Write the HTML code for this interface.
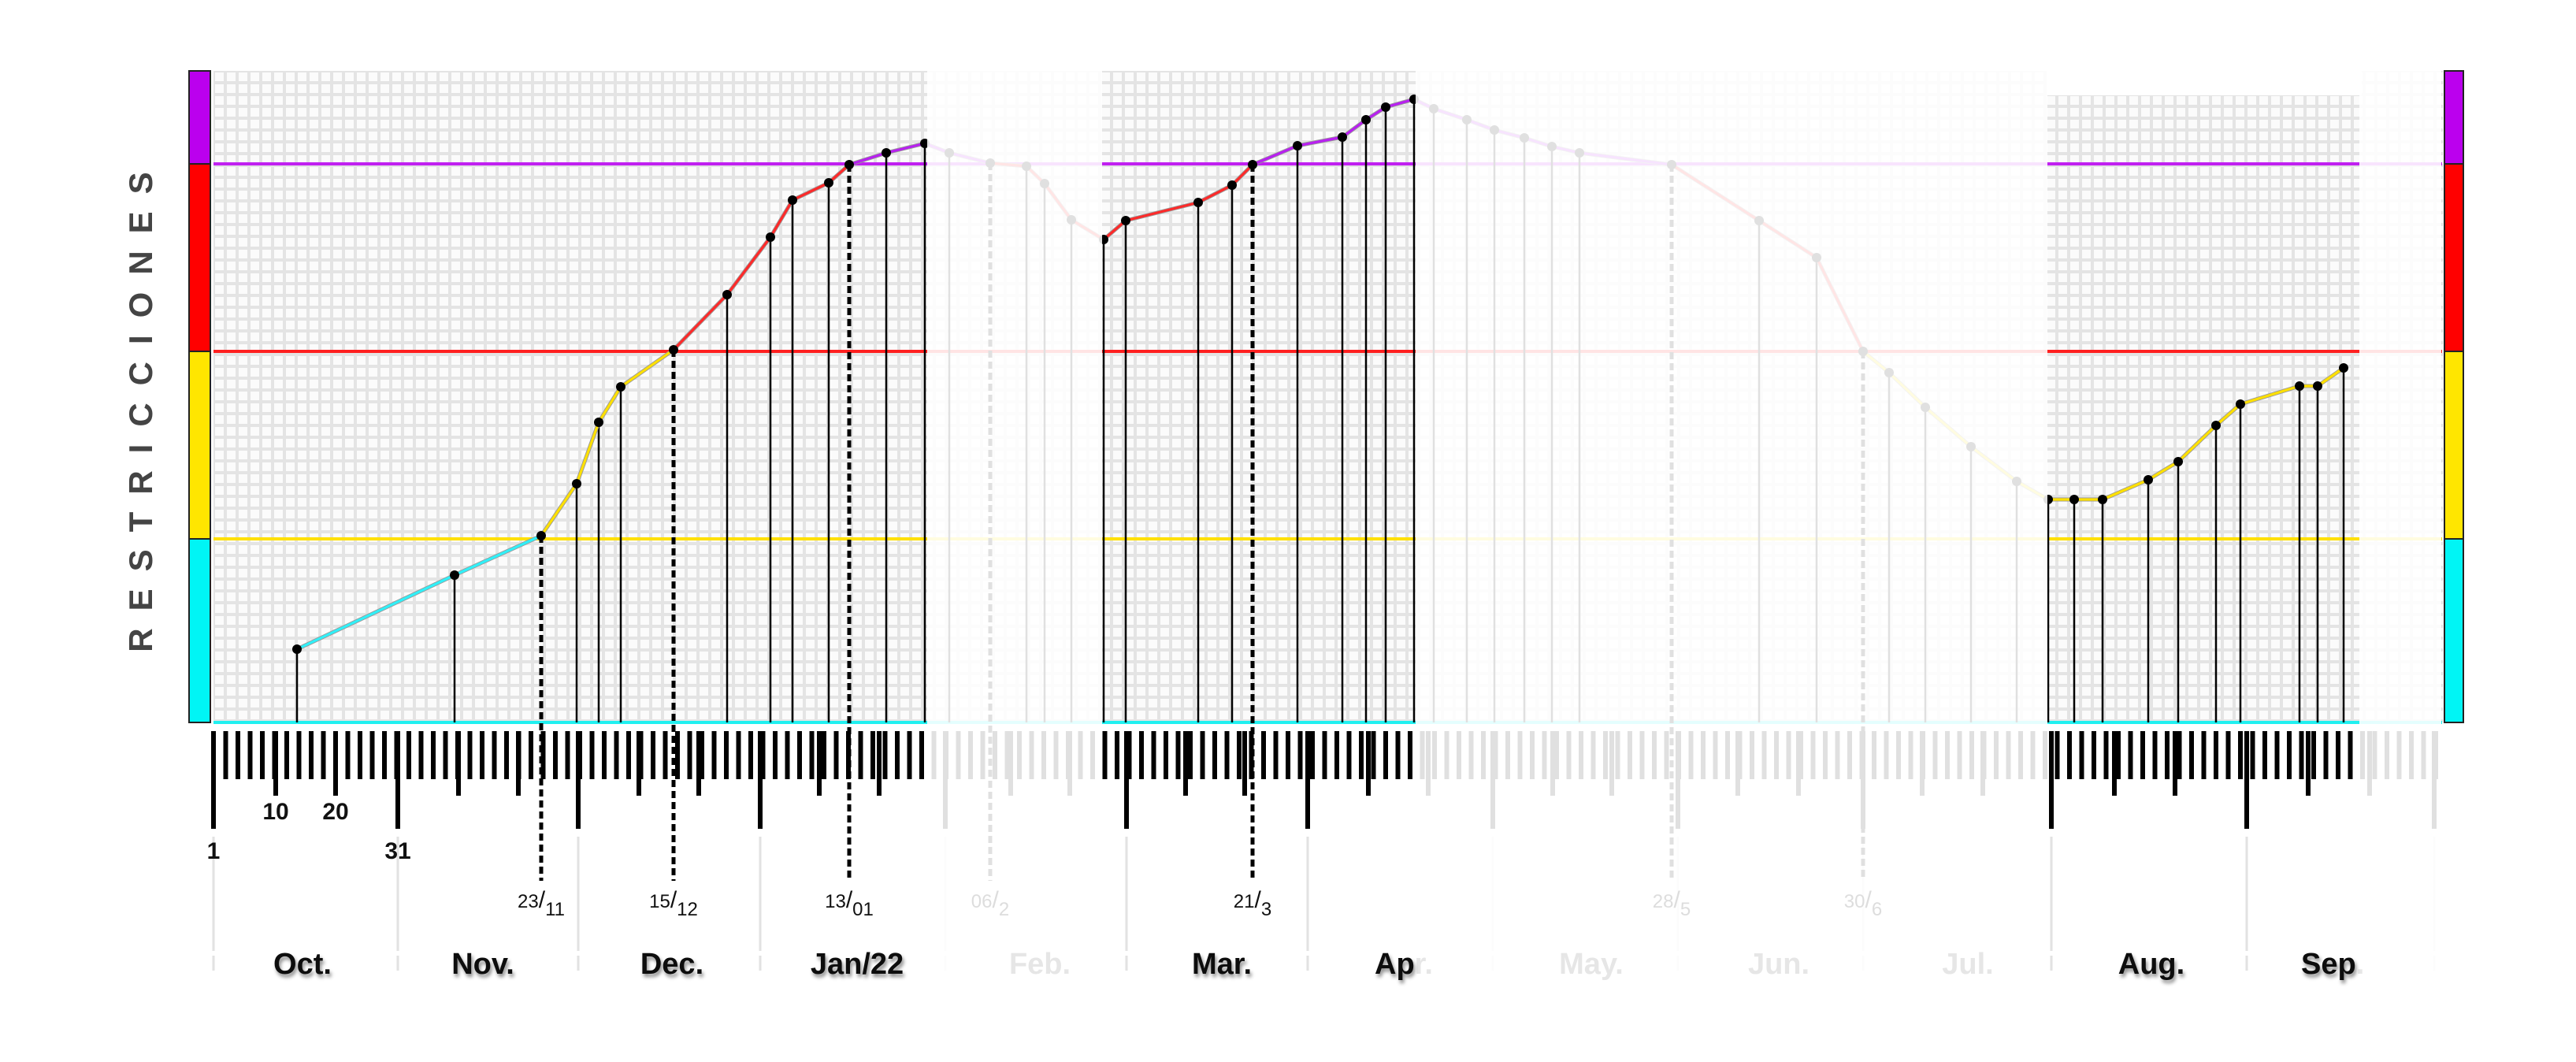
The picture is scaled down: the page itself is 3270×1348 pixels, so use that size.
<!DOCTYPE html>
<html><head><meta charset="utf-8">
<style>
html,body{margin:0;padding:0;background:#fff;}
svg{display:block;}
text{font-family:"Liberation Sans",sans-serif;}
</style></head>
<body>
<svg width="3270" height="1348" viewBox="0 0 3270 1348" xmlns="http://www.w3.org/2000/svg">
<defs>
<pattern id="grid" x="271" y="90" width="15" height="15" patternUnits="userSpaceOnUse">
<rect width="15" height="15" fill="#e4e4e4"/>
<rect x="2" y="2" width="11" height="11" fill="#fbfbfb"/>
</pattern>
<pattern id="tk" x="268" y="0" width="15.5" height="2000" patternUnits="userSpaceOnUse">
<rect x="0" y="0" width="6" height="2000" fill="#000"/>
</pattern>
<filter id="sh" x="-20%" y="-20%" width="140%" height="160%">
<feDropShadow dx="2" dy="4" stdDeviation="2.5" flood-color="#000" flood-opacity="0.45"/>
</filter>
</defs>
<rect width="3270" height="1348" fill="#fff"/>
<rect x="271" y="90" width="2830" height="827" fill="url(#grid)"/>
<rect x="2598" y="80" width="400" height="41" fill="#fff"/>
<g stroke="#222" stroke-width="2">
<rect x="240" y="90" width="27" height="118" fill="#bb00ee"/>
<rect x="240" y="208" width="27" height="238" fill="#ff0000"/>
<rect x="240" y="446" width="27" height="238" fill="#ffe600"/>
<rect x="240" y="684" width="27" height="233" fill="#00f5f5"/>
<rect x="3103" y="90" width="24" height="118" fill="#bb00ee"/>
<rect x="3103" y="208" width="24" height="238" fill="#ff0000"/>
<rect x="3103" y="446" width="24" height="238" fill="#ffe600"/>
<rect x="3103" y="684" width="24" height="233" fill="#00f5f5"/>
</g>
<g stroke-width="4">
<line x1="271" y1="208" x2="3100" y2="208" stroke="#c020f0"/>
<line x1="271" y1="446" x2="3100" y2="446" stroke="#ff2020"/>
<line x1="271" y1="684" x2="3100" y2="684" stroke="#ffe000"/>
<line x1="271" y1="917" x2="3100" y2="917" stroke="#20f0f0"/>
</g>
<rect x="268" y="928" width="2831" height="61" fill="url(#tk)"/>
<g fill="#000">
<rect x="268" y="928" width="6" height="124"/>
<rect x="502" y="928" width="6" height="124"/>
<rect x="731" y="928" width="6" height="124"/>
<rect x="962" y="928" width="6" height="124"/>
<rect x="1197" y="928" width="6" height="124"/>
<rect x="1427" y="928" width="6" height="124"/>
<rect x="1657" y="928" width="6" height="124"/>
<rect x="1892" y="928" width="6" height="124"/>
<rect x="2127" y="928" width="6" height="124"/>
<rect x="2362" y="928" width="6" height="124"/>
<rect x="2601" y="928" width="6" height="124"/>
<rect x="2849" y="928" width="6" height="124"/>
<rect x="3087" y="928" width="6" height="124"/>
<rect x="347" y="928" width="6" height="82"/><rect x="423" y="928" width="6" height="82"/>
<rect x="579" y="928" width="6" height="82"/><rect x="655" y="928" width="6" height="82"/>
<rect x="808" y="928" width="6" height="82"/><rect x="884" y="928" width="6" height="82"/>
<rect x="1037" y="928" width="6" height="82"/><rect x="1113" y="928" width="6" height="82"/>
<rect x="1280" y="928" width="6" height="82"/><rect x="1355" y="928" width="6" height="82"/>
<rect x="1502" y="928" width="6" height="82"/><rect x="1577" y="928" width="6" height="82"/>
<rect x="1734" y="928" width="6" height="82"/><rect x="1810" y="928" width="6" height="82"/>
<rect x="1968" y="928" width="6" height="82"/><rect x="2043" y="928" width="6" height="82"/>
<rect x="2203" y="928" width="6" height="82"/><rect x="2280" y="928" width="6" height="82"/>
<rect x="2437" y="928" width="6" height="82"/><rect x="2514" y="928" width="6" height="82"/>
<rect x="2681" y="928" width="6" height="82"/><rect x="2758" y="928" width="6" height="82"/>
<rect x="2927" y="928" width="6" height="82"/><rect x="3005" y="928" width="6" height="82"/>
</g>
<g stroke="#e2e2e2" stroke-width="3">
<path d="M271 1062V1207M505 1062V1207M734 1062V1207M965 1062V1207M1200 1062V1207M1430 1062V1207M1660 1062V1207M1895 1062V1207M2130 1062V1207M2365 1062V1207M2604 1062V1207M2852 1062V1207M3090 1062V1207"/>
<path d="M271 1213V1232M505 1213V1232M734 1213V1232M965 1213V1232M1200 1213V1232M1430 1213V1232M1660 1213V1232M1895 1213V1232M2130 1213V1232M2365 1213V1232M2604 1213V1232M2852 1213V1232M3090 1213V1232"/>
</g>
<g stroke="#000" stroke-width="2.5">
<path d="M377 824V917M577 730V917M732 614V917M760 536V917M788 491V917M923 374V917M978 301V917M1006 254V917M1052 232V917M1125 194V917M1174 182V917"/>
<path d="M1205 194V917M1303 211V917M1326 233V917M1360 279V917"/>
<path d="M1401 304V917M1429 280V917M1521 257V917M1564 235V917M1647 185V917M1704 174V917M1734 152V917M1759 136V917M1795 126V917"/>
<path d="M1820 138V917M1862 152V917M1897 165V917M1935 175V917M1970 186V917M2005 194V917M2233 280V917M2306 327V917M2398 473V917M2444 517V917M2502 567V917M2560 611V917"/>
<path d="M2600 634V917M2633 634V917M2669 634V917M2727 609V917M2765 586V917M2813 540V917M2844 513V917M2919 490V917M2942 490V917M2975 467V917"/>
</g>
<g stroke="#000" stroke-width="5" stroke-dasharray="9 5">
<path d="M687 680V1118M855 444V1118M1078 209V1118M1590 209V1118M1257 207V1118M2122 209V1118M2365 446V1118"/>
</g>
<g fill="none" stroke-linejoin="round">
<polyline stroke="#999" stroke-width="5" points="377,824 577,730 687,680 732,614 760,536 788,491 855,444 923,374 978,301 1006,254 1052,232 1078,209 1125,194 1174,182 1205,194 1257,207 1303,211 1326,233 1360,279 1401,304 1429,280 1521,257 1564,235 1590,209 1647,185 1704,174 1734,152 1759,136 1795,126 1820,138 1862,152 1897,165 1935,175 1970,186 2005,194 2122,209 2233,280 2306,327 2365,446 2398,473 2444,517 2502,567 2560,611 2600,634 2633,634 2669,634 2727,609 2765,586 2813,540 2844,513 2919,490 2942,490 2975,467"/>
<g stroke-width="3.2">
<polyline stroke="#30f0f8" points="377,824 577,730 687,680"/>
<polyline stroke="#ffe000" points="687,680 732,614 760,536 788,491 855,444"/>
<polyline stroke="#ff2a2a" points="855,444 923,374 978,301 1006,254 1052,232 1078,209"/>
<polyline stroke="#b820f0" points="1078,209 1125,194 1174,182 1205,194 1257,207"/>
<polyline stroke="#ff2a2a" points="1257,207 1303,211 1326,233 1360,279 1401,304 1429,280 1521,257 1564,235 1590,209"/>
<polyline stroke="#b820f0" points="1590,209 1647,185 1704,174 1734,152 1759,136 1795,126 1820,138 1862,152 1897,165 1935,175 1970,186 2005,194 2122,209"/>
<polyline stroke="#ff2a2a" points="2122,209 2233,280 2306,327 2365,446"/>
<polyline stroke="#ffe000" points="2365,446 2398,473 2444,517 2502,567 2560,611 2600,634 2633,634 2669,634 2727,609 2765,586 2813,540 2844,513 2919,490 2942,490 2975,467"/>
</g>
</g>
<g fill="#000">
<circle cx="377" cy="824" r="6"/><circle cx="577" cy="730" r="6"/><circle cx="687" cy="680" r="6"/><circle cx="732" cy="614" r="6"/><circle cx="760" cy="536" r="6"/><circle cx="788" cy="491" r="6"/><circle cx="855" cy="444" r="6"/><circle cx="923" cy="374" r="6"/><circle cx="978" cy="301" r="6"/><circle cx="1006" cy="254" r="6"/><circle cx="1052" cy="232" r="6"/><circle cx="1078" cy="209" r="6"/><circle cx="1125" cy="194" r="6"/><circle cx="1174" cy="182" r="6"/>
<circle cx="1205" cy="194" r="6"/><circle cx="1257" cy="207" r="6"/><circle cx="1303" cy="211" r="6"/><circle cx="1326" cy="233" r="6"/><circle cx="1360" cy="279" r="6"/>
<circle cx="1401" cy="304" r="6"/><circle cx="1429" cy="280" r="6"/><circle cx="1521" cy="257" r="6"/><circle cx="1564" cy="235" r="6"/><circle cx="1590" cy="209" r="6"/><circle cx="1647" cy="185" r="6"/><circle cx="1704" cy="174" r="6"/><circle cx="1734" cy="152" r="6"/><circle cx="1759" cy="136" r="6"/><circle cx="1795" cy="126" r="6"/>
<circle cx="1820" cy="138" r="6"/><circle cx="1862" cy="152" r="6"/><circle cx="1897" cy="165" r="6"/><circle cx="1935" cy="175" r="6"/><circle cx="1970" cy="186" r="6"/><circle cx="2005" cy="194" r="6"/><circle cx="2122" cy="209" r="6"/><circle cx="2233" cy="280" r="6"/><circle cx="2306" cy="327" r="6"/><circle cx="2365" cy="446" r="6"/><circle cx="2398" cy="473" r="6"/><circle cx="2444" cy="517" r="6"/><circle cx="2502" cy="567" r="6"/><circle cx="2560" cy="611" r="6"/>
<circle cx="2600" cy="634" r="6"/><circle cx="2633" cy="634" r="6"/><circle cx="2669" cy="634" r="6"/><circle cx="2727" cy="609" r="6"/><circle cx="2765" cy="586" r="6"/><circle cx="2813" cy="540" r="6"/><circle cx="2844" cy="513" r="6"/><circle cx="2919" cy="490" r="6"/><circle cx="2942" cy="490" r="6"/><circle cx="2975" cy="467" r="6"/>
</g>
<g fill="#fff" fill-opacity="0.88">
<rect x="1177" y="80" width="222" height="1200"/>
<rect x="1797" y="80" width="802" height="1200"/>
<rect x="2995" y="80" width="104" height="1200"/>
</g>
<g font-weight="bold" font-size="30" fill="#111">
<text x="350" y="1040" text-anchor="middle">10</text>
<text x="426" y="1040" text-anchor="middle">20</text>
<text x="271" y="1090" text-anchor="middle">1</text>
<text x="505" y="1090" text-anchor="middle">31</text>
</g>
<g font-size="24" fill="#111">
<text x="687" y="1160" text-anchor="middle"><tspan dy="-8">23</tspan><tspan font-size="30">/</tspan><tspan dy="10">11</tspan></text>
<text x="855" y="1160" text-anchor="middle"><tspan dy="-8">15</tspan><tspan font-size="30">/</tspan><tspan dy="10">12</tspan></text>
<text x="1078" y="1160" text-anchor="middle"><tspan dy="-8">13</tspan><tspan font-size="30">/</tspan><tspan dy="10">01</tspan></text>
<text x="1590" y="1160" text-anchor="middle"><tspan dy="-8">21</tspan><tspan font-size="30">/</tspan><tspan dy="10">3</tspan></text>
</g>
<g font-size="24" fill="#ddd">
<text x="1257" y="1160" text-anchor="middle"><tspan dy="-8">06</tspan><tspan font-size="30">/</tspan><tspan dy="10">2</tspan></text>
<text x="2122" y="1160" text-anchor="middle"><tspan dy="-8">28</tspan><tspan font-size="30">/</tspan><tspan dy="10">5</tspan></text>
<text x="2365" y="1160" text-anchor="middle"><tspan dy="-8">30</tspan><tspan font-size="30">/</tspan><tspan dy="10">6</tspan></text>
</g>
<g font-weight="bold" font-size="38">
<g fill="#111" filter="url(#sh)" text-anchor="middle">
<text x="384" y="1236">Oct.</text>
<text x="613" y="1236">Nov.</text>
<text x="853" y="1236">Dec.</text>
<text x="1088" y="1236">Jan/22</text>
<text x="1551" y="1236">Mar.</text>
<text x="2731" y="1236">Aug.</text>
</g>
<g fill="#e6e6e6" text-anchor="middle">
<text x="1320" y="1236">Feb.</text>
<text x="2020" y="1236">May.</text>
<text x="2258" y="1236">Jun.</text>
<text x="2498" y="1236">Jul.</text>
</g>
<text x="1745" y="1236" fill="#e6e6e6">Apr.</text>
<text x="2921" y="1236" fill="#e6e6e6">Sep.</text>
<g filter="url(#sh)" fill="#111">
<text x="1745" y="1236">Ap</text>
<text x="2921" y="1236">Sep</text>
</g>
</g>
<text transform="translate(193,512) rotate(-90)" text-anchor="middle" font-weight="bold" font-size="42" fill="#444" letter-spacing="22">RESTRICCIONES</text>
</svg>
</body></html>
